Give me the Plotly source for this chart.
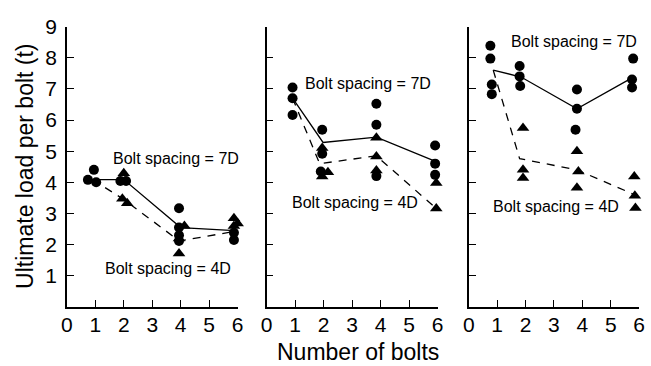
import plotly.graph_objects as go

# ---- data: ultimate load per bolt (t) vs number of bolts, three test series ----
# circles: bolt spacing = 7D, triangles: bolt spacing = 4D

# panel 1
p1_circ_x = [0.95, 0.74, 1.03, 1.88, 2.08, 3.94, 3.94, 3.94, 3.94, 5.87, 5.87]
p1_circ_y = [4.40, 4.08, 4.00, 4.04, 4.04, 3.17, 2.55, 2.30, 2.12, 2.38, 2.15]
p1_tri_x = [2.00, 1.95, 2.12, 4.13, 3.94, 3.94, 5.87, 6.00, 5.87]
p1_tri_y = [4.29, 3.47, 3.33, 2.60, 2.20, 1.72, 2.85, 2.68, 2.60]
p1_7d_x = [0.90, 2.00, 4.00, 5.90]
p1_7d_y = [4.09, 4.09, 2.55, 2.45]
p1_4d_x = [0.90, 2.00, 3.95, 5.87]
p1_4d_y = [4.09, 3.45, 2.12, 2.42]

# panel 2
p2_circ_x = [0.91, 0.91, 0.91, 1.95, 1.95, 1.90, 3.85, 3.85, 3.85, 5.91, 5.91, 5.91]
p2_circ_y = [7.04, 6.70, 6.16, 5.69, 4.92, 4.35, 6.52, 5.85, 4.20, 5.18, 4.60, 4.24]
p2_tri_x = [1.95, 2.15, 1.95, 3.85, 3.85, 3.85, 5.95, 5.95]
p2_tri_y = [5.10, 4.32, 4.19, 5.43, 4.83, 4.38, 3.98, 3.16]
p2_7d_x = [0.91, 1.98, 3.85, 5.90]
p2_7d_y = [6.70, 5.28, 5.45, 4.68]
p2_4d_x = [0.91, 1.86, 3.85, 5.95]
p2_4d_y = [6.70, 4.60, 4.85, 3.16]

# panel 3
p3_circ_x = [0.76, 0.76, 0.81, 0.81, 1.79, 1.79, 1.81, 3.81, 3.81, 3.76, 5.79, 5.75, 5.75]
p3_circ_y = [8.38, 7.97, 7.14, 6.83, 7.73, 7.40, 7.09, 6.98, 6.36, 5.69, 7.97, 7.30, 7.04]
p3_tri_x = [1.91, 1.91, 1.91, 3.81, 3.86, 3.81, 5.83, 5.85, 5.87]
p3_tri_y = [5.74, 4.40, 4.14, 5.00, 4.35, 3.83, 4.19, 3.57, 3.18]
p3_7d_x = [0.86, 1.84, 3.81, 5.75]
p3_7d_y = [7.60, 7.38, 6.36, 7.35]
p3_4d_x = [0.86, 1.79, 3.81, 5.85]
p3_4d_y = [7.60, 4.76, 4.40, 3.60]

x_ticks = [0, 1, 2, 3, 4, 5, 6]
y_ticks = [1, 2, 3, 4, 5, 6, 7, 8, 9]

label_7d = "Bolt spacing = 7D"
label_4d = "Bolt spacing = 4D"
# label anchor positions in each panel's data coordinates
lab7_pos = [(3.82, 4.75), (3.57, 7.17), (3.69, 8.51)]
lab4_pos = [(3.55, 1.22), (3.10, 3.36), (3.06, 3.24)]

W, H = 651, 366
FONT = "Liberation Sans, Arial, sans-serif"

panels = [
    (p1_circ_x, p1_circ_y, p1_tri_x, p1_tri_y, p1_7d_x, p1_7d_y, p1_4d_x, p1_4d_y),
    (p2_circ_x, p2_circ_y, p2_tri_x, p2_tri_y, p2_7d_x, p2_7d_y, p2_4d_x, p2_4d_y),
    (p3_circ_x, p3_circ_y, p3_tri_x, p3_tri_y, p3_7d_x, p3_7d_y, p3_4d_x, p3_4d_y),
]

# plot-area pixel extents (left, right) of each panel, and common bottom/top
x_pix = [(62.0, 236.0), (265.5, 439.8), (471.5, 645.0)]
y_bottom, y_top = 305.0, 15.0

fig = go.Figure()
annotations = []

for i, (cx, cy, tx, ty, sx, sy, dx, dy) in enumerate(panels):
    n = "" if i == 0 else str(i + 1)
    xa, ya = "x" + n, "y" + n
    fig.add_trace(go.Scatter(x=sx, y=sy, xaxis=xa, yaxis=ya, mode="lines",
                             line=dict(color="black", width=1.3),
                             cliponaxis=False, showlegend=False))
    fig.add_trace(go.Scatter(x=dx, y=dy, xaxis=xa, yaxis=ya, mode="lines",
                             line=dict(color="black", width=1.3, dash="8px,7px"),
                             cliponaxis=False, showlegend=False))
    fig.add_trace(go.Scatter(x=cx, y=cy, xaxis=xa, yaxis=ya, mode="markers",
                             marker=dict(symbol="circle", size=10, color="black"),
                             cliponaxis=False, showlegend=False))
    fig.add_trace(go.Scatter(x=tx, y=ty, xaxis=xa, yaxis=ya, mode="markers",
                             marker=dict(symbol="triangle-up", size=11, color="black"),
                             cliponaxis=False, showlegend=False))

    l, r = x_pix[i]
    axis_common = dict(showline=True, linecolor="black", linewidth=1.5,
                       ticks="inside", ticklen=7, tickwidth=1.3, tickcolor="black",
                       showgrid=False, zeroline=False, mirror=False,
                       tickfont=dict(family=FONT, size=21, color="black"))
    fig.update_layout(**{
        ("xaxis" + n): dict(domain=[l / W, r / W], range=[0, 6], tickvals=x_ticks,
                            anchor=ya, ticklabelstandoff=-2, **axis_common),
        ("yaxis" + n): dict(domain=[1 - y_bottom / H, 1 - y_top / H], range=[0, 9],
                            tickvals=y_ticks, anchor=xa, showticklabels=(i == 0),
                            ticklabelstandoff=4, **axis_common),
    })

    for (ax_, ay_), txt in ((lab7_pos[i], label_7d), (lab4_pos[i], label_4d)):
        annotations.append(dict(x=ax_, y=ay_, xref=xa, yref=ya, text=txt,
                                showarrow=False, xanchor="center", yanchor="middle",
                                font=dict(family=FONT, size=16, color="black")))

# shared axis titles
annotations.append(dict(x=358.8 / W, y=1 - 352.0 / H, xref="paper", yref="paper",
                        text="Number of bolts", showarrow=False,
                        xanchor="center", yanchor="middle",
                        font=dict(family=FONT, size=23, color="black")))
annotations.append(dict(x=20.0 / W, y=1 - 159.5 / H, xref="paper", yref="paper",
                        text="Ultimate load per bolt (t)", showarrow=False, textangle=-90,
                        xanchor="center", yanchor="middle",
                        font=dict(family=FONT, size=23, color="black")))

fig.update_layout(width=W, height=H, margin=dict(l=0, r=0, t=0, b=0),
                  paper_bgcolor="white", plot_bgcolor="white",
                  annotations=annotations)

fig.write_html("out.html")
